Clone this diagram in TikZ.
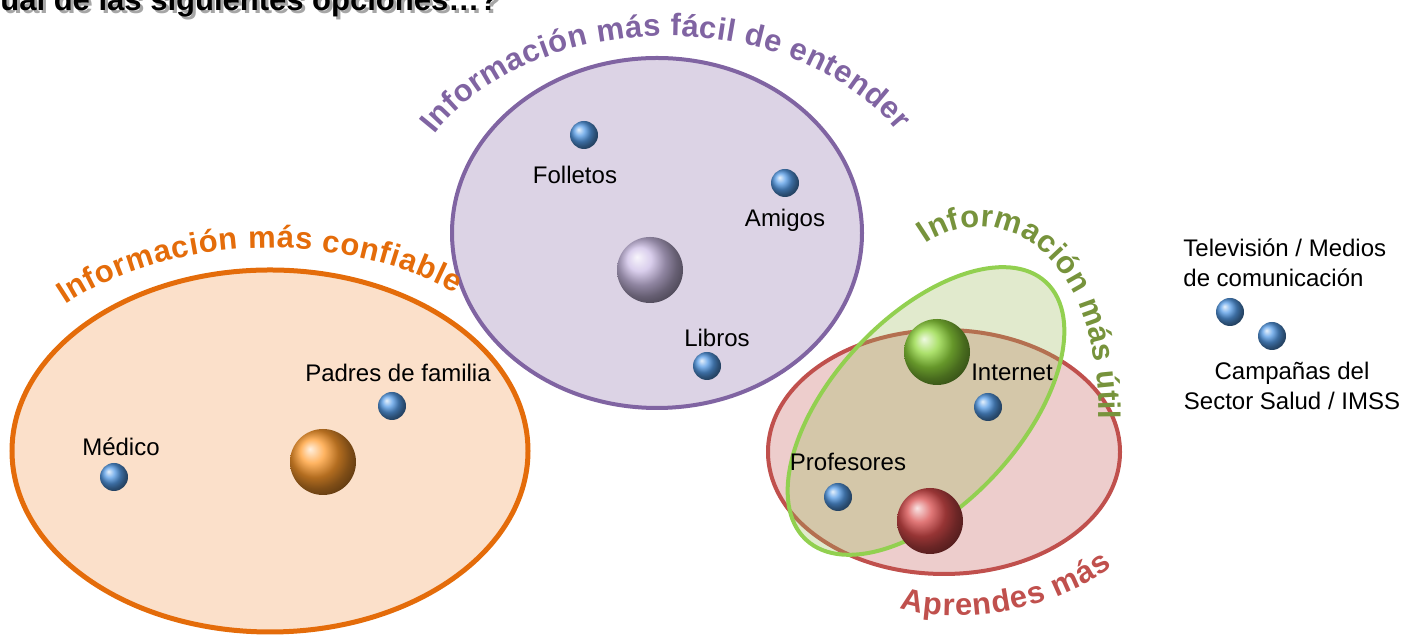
\documentclass[tikz,border=0pt]{standalone}
\usepackage{fontspec}
\setmainfont{Liberation Sans}
\usetikzlibrary{decorations.text}

\definecolor{naranja}{RGB}{228,108,10}
\definecolor{naranjafondo}{RGB}{251,224,202}
\definecolor{morado}{RGB}{128,100,162}
\definecolor{moradofondo}{RGB}{220,211,229}
\definecolor{rojo}{RGB}{192,80,77}
\definecolor{rojofondo}{RGB}{237,205,204}
\definecolor{verde}{RGB}{146,208,80}
\definecolor{verdefondo}{RGB}{155,187,89}
\definecolor{verdetexto}{RGB}{119,147,60}
\definecolor{azulbola}{RGB}{85,155,230}
\definecolor{naranjabola}{RGB}{255,155,45}
\definecolor{moradobola}{RGB}{205,190,230}
\definecolor{verdebola}{RGB}{145,215,60}
\definecolor{rojobola}{RGB}{215,75,75}

\newcommand{\arcofont}{\bfseries\fontsize{15.5}{15.5}\selectfont}

\tikzset{
    conjunto/.style={line width=2pt},
    bola/.style={circle,shade,shading=ball,ball color=azulbola,minimum size=14pt,inner sep=0pt},
    bolagrande/.style={circle,shade,shading=ball,minimum size=33pt,inner sep=0pt},
    etiqueta/.style={font=\fontsize{12}{15}\selectfont,inner sep=0pt},
    arco/.style={decorate,decoration={text along path,text align={fit to path}}}
}

\begin{document}
\begin{tikzpicture}[x=0.5pt,y=0.5pt]
    \clip (0,0) rectangle (1409,635);

    % pregunta cortada arriba
    \node[anchor=base west,inner sep=0pt,font=\bfseries\fontsize{15.5}{15.5}\selectfont,text=black!35] (sombra) at (3,621) {ual de las siguientes opciones\dots?};
    \node[anchor=base west,inner sep=0pt,font=\bfseries\fontsize{15.5}{15.5}\selectfont] (pregunta) at (0,624) {ual de las siguientes opciones\dots?};

    % conjuntos
    \draw[conjunto,line width=2.5pt,draw=naranja,fill=naranjafondo] (270,184) ellipse [x radius=258, y radius=181];
    \draw[conjunto,draw=morado,fill=moradofondo] (657,402) ellipse [x radius=205, y radius=175];
    \draw[conjunto,draw=rojo,fill=rojofondo] (944,183) ellipse [x radius=176, y radius=122];
    \draw[conjunto,draw=verde,fill=verdefondo,fill opacity=0.3,rotate around={47:(926,224)}] (926,224) ellipse [x radius=176, y radius=94];

    % titulos curvos
    \path[arco,decoration={text color=naranja,text={|\arcofont|Información más confiable}}]
        (270,184) ++(134:295 and 203) arc[start angle=134, end angle=51, x radius=295, y radius=203];
    \path[arco,decoration={text color=morado,text={|\arcofont|Información más fácil de entender}}]
        (667,402) ++(150:269 and 197) arc[start angle=150, end angle=31, x radius=269, y radius=197];
    \path[arco,decoration={text color=verdetexto,text={|\arcofont|Información más útil}}]
        (926,391) .. controls (990,437) and (1099,395) .. (1099,216);
    \path[arco,decoration={text color=rojo,text={|\arcofont|Aprendes más}}]
        (900,27) .. controls (950,10) and (1050,20) .. (1112,69);

    % bolas grandes
    \node[bolagrande,ball color=naranjabola] (confiable) at (323,173) {};
    \node[bolagrande,ball color=moradobola] (entender) at (650,365) {};
    \node[bolagrande,ball color=verdebola] (util) at (937,283) {};
    \node[bolagrande,ball color=rojobola] (aprendes) at (930,114) {};

    % fuentes
    \node[bola] (medico) at (114,158) {};
    \node[etiqueta] (medicotxt) at (121,188) {Médico};
    \node[bola] (padres) at (392,229) {};
    \node[etiqueta] (padrestxt) at (398,262) {Padres de familia};
    \node[bola] (folletos) at (584,500) {};
    \node[etiqueta] (folletostxt) at (575,460) {Folletos};
    \node[bola] (amigos) at (785,452) {};
    \node[etiqueta] (amigostxt) at (785,415) {Amigos};
    \node[bola] (libros) at (707,269) {};
    \node[etiqueta] (librostxt) at (717,297) {Libros};
    \node[bola] (internet) at (988,228) {};
    \node[etiqueta] (internettxt) at (1012,263) {Internet};
    \node[bola] (profesores) at (838,138) {};
    \node[etiqueta] (profesorestxt) at (848,173) {Profesores};

    % fuera de los conjuntos
    \node[etiqueta,anchor=west,align=left] (tvtxt) at (1183,372) {Televisión / Medios\\de comunicación};
    \node[bola] (tv) at (1230,323) {};
    \node[bola] (campanas) at (1272,299) {};
    \node[etiqueta,align=center] (campanastxt) at (1292,249) {Campañas del\\Sector Salud / IMSS};
\end{tikzpicture}
\end{document}
